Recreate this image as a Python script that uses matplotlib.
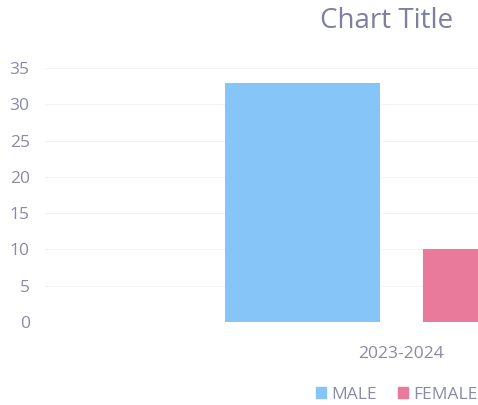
import numpy as np
import matplotlib.pyplot as plt
from matplotlib.patches import Patch

# данные с графика
categories = ['2023-2024']
series = ['MALE', 'FEMALE']
values = [33, 10]
colors = ['#86c5f7', '#e97a9b']
yticks = [0, 5, 10, 15, 20, 25, 30, 35]

text_color = '#8a8aa8'
plt.rcParams['font.family'] = ['Open Sans', 'DejaVu Sans']

fig = plt.figure(figsize=(4.78, 4.05), dpi=100)
ax = fig.add_axes([0.094, 0.205, 0.906, 0.627])

width = 0.36
offsets = [-0.23, 0.23]
x = np.arange(len(categories))
for i, name in enumerate(series):
    ax.bar(x + offsets[i], [values[i]], width, color=colors[i], label=name, zorder=2)

ax.set_ylim(0, 35)
ax.set_yticks(yticks)
ax.set_xlim(-0.829, 0.178)
ax.set_xticks(x)
ax.set_xticklabels(categories)
ax.grid(axis='y', color='#f2f2f4', linewidth=0.8, zorder=0)
for s in ax.spines.values():
    s.set_visible(False)
ax.tick_params(length=0, colors=text_color, labelsize=12.5)
ax.tick_params(axis='y', pad=11)
ax.tick_params(axis='x', pad=17)

fig.text(0.808, 0.948, 'Chart Title', ha='center', va='center', fontsize=20, color='#7f7fa0')

handles = [Patch(color=c, label=n) for c, n in zip(colors, series)]
fig.legend(handles=handles, loc='center', bbox_to_anchor=(0.83, 0.025), ncol=2, frameon=False,
           fontsize=12.5, labelcolor=text_color, handlelength=0.6, handleheight=0.6,
           handletextpad=0.3, columnspacing=1.2)

fig.savefig('out.png', dpi=100)
